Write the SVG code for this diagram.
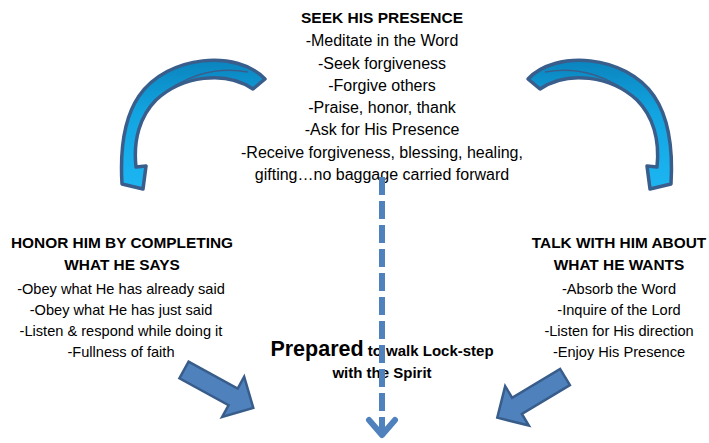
<svg xmlns="http://www.w3.org/2000/svg" width="709" height="443" viewBox="0 0 709 443">
<defs>
<linearGradient id="cg" gradientUnits="userSpaceOnUse" x1="0" y1="60" x2="0" y2="190">
<stop offset="0" stop-color="#0A84BE"/>
<stop offset="0.4" stop-color="#12A4E0"/>
<stop offset="1" stop-color="#1CB6F3"/>
</linearGradient>
<path id="curve" d="M265,79 C238,50 168,54 139,96 C124,118 120,150 122,184 L143,189 L146,166 L136,167 C133,140 140,116 156,100 C182,76 225,70 253,89 Z"/>
</defs>
<style>
.t{font-family:"Liberation Sans",Arial,sans-serif;fill:#000;text-anchor:middle}
.b{font-weight:bold}
.cv{fill:url(#cg);stroke:#3A5E8C;stroke-width:3.5;stroke-linejoin:round}
.fold{fill:none;stroke:#3A5E8C;stroke-width:1.5}
.blk{fill:#4F81BD;stroke:#385D8A;stroke-width:2.5;stroke-linejoin:miter}
.dash{fill:none;stroke:#4F81BD;stroke-width:6;stroke-dasharray:18 6}
.chev{fill:none;stroke:#4F81BD;stroke-width:6;stroke-linecap:round;stroke-linejoin:round}
</style>
<rect width="709" height="443" fill="#fff"/>
<g id="seek">
<text class="t b" x="382" y="23" font-size="15.5">SEEK HIS PRESENCE</text>
<text class="t" x="382" y="46" font-size="16">-Meditate in the Word</text>
<text class="t" x="382" y="68.5" font-size="16">-Seek forgiveness</text>
<text class="t" x="382" y="91" font-size="16">-Forgive others</text>
<text class="t" x="382" y="113" font-size="16">-Praise, honor, thank</text>
<text class="t" x="382" y="135" font-size="16">-Ask for His Presence</text>
<text class="t" x="382" y="157.5" font-size="16">-Receive forgiveness, blessing, healing,</text>
<text class="t" x="382" y="180" font-size="16">gifting…no baggage carried forward</text>
</g>
<g id="honor">
<text class="t b" x="122" y="248" font-size="15.4">HONOR HIM BY COMPLETING</text>
<text class="t b" x="122" y="270" font-size="15.4">WHAT HE SAYS</text>
<text class="t" x="121" y="294" font-size="14.6">-Obey what He has already said</text>
<text class="t" x="121" y="315" font-size="14.6">-Obey what He has just said</text>
<text class="t" x="121" y="336" font-size="14.6">-Listen &amp; respond while doing it</text>
<text class="t" x="121" y="357" font-size="14.6">-Fullness of faith</text>
</g>
<g id="talk">
<text class="t b" x="619" y="248" font-size="15.4">TALK WITH HIM ABOUT</text>
<text class="t b" x="619" y="270" font-size="15.4">WHAT HE WANTS</text>
<text class="t" x="619" y="294" font-size="14.6">-Absorb the Word</text>
<text class="t" x="619" y="315" font-size="14.6">-Inquire of the Lord</text>
<text class="t" x="619" y="336" font-size="14.6">-Listen for His direction</text>
<text class="t" x="619" y="357" font-size="14.6">-Enjoy His Presence</text>
</g>
<g id="prepared">
<text class="t b" x="382" y="356"><tspan font-size="21.5">Prepared</tspan><tspan font-size="15"> to walk Lock-step</tspan></text>
<text class="t b" x="382" y="378" font-size="15">with the Spirit</text>
</g>
<g id="connectors">
<g id="curve-left">
<use href="#curve" class="cv"/>
<path class="fold" d="M156,100 C182,76 215,66 248,72"/>
</g>
<g id="curve-right" transform="translate(793,0) scale(-1,1)">
<use href="#curve" class="cv"/>
<path class="fold" d="M156,100 C182,76 215,66 248,72"/>
</g>
<polygon id="block-left" class="blk" transform="translate(184,370) rotate(28.7)" points="0,-9.5 56,-9.5 56,-23 79,0 56,23 56,9.5 0,9.5"/>
<polygon id="block-right" class="blk" transform="translate(565,377) rotate(149)" points="0,-9.5 56,-9.5 56,-23 79,0 56,23 56,9.5 0,9.5"/>
<line class="dash" x1="382" y1="177" x2="382" y2="432"/>
<polyline class="chev" points="369,420 382,435 395,420"/>
</g>
</svg>
